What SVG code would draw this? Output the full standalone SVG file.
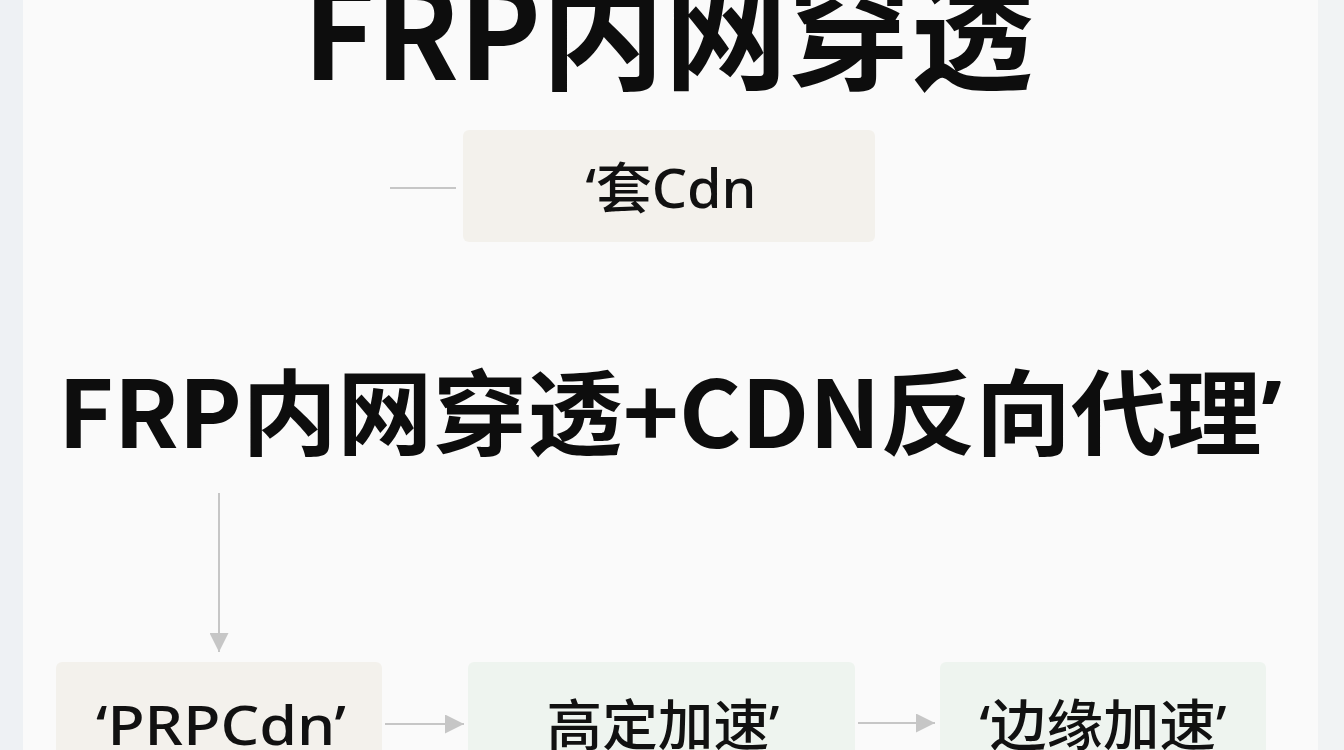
<svg xmlns="http://www.w3.org/2000/svg" width="1344" height="750" viewBox="0 0 1344 750">
<style>
.title{font-family:"Noto Sans CJK SC","Noto Sans",sans-serif;font-weight:bold;fill:#0d0d0d}
.q{font-family:"Noto Sans",sans-serif}
.lbl{font-family:"Noto Sans","Noto Sans CJK SC",sans-serif;font-size:55px;font-weight:500;fill:#111;text-anchor:middle}
.beige{fill:#f3f1ec}
.green{fill:#eef4ef}
.conn{stroke:#c6c6c6;stroke-width:2;fill:none}
</style>
<defs>
<marker id="arrBig" viewBox="0 0 10 10" refX="10" refY="5" markerWidth="19" markerHeight="19" markerUnits="userSpaceOnUse" orient="auto">
<path d="M0,0 L10,5 L0,10 z" fill="#c6c6c6"/>
</marker>
</defs>
<rect x="0" y="0" width="1344" height="750" fill="#fafafa"/>
<rect x="0" y="0" width="23" height="750" fill="#eef1f4"/>
<rect x="1318" y="0" width="26" height="750" fill="#f1f3f4"/>

<g id="title-top">
<text class="title" x="303" y="80" font-size="128" textLength="731" lengthAdjust="spacingAndGlyphs">FRP内网穿透</text>
</g>
<g id="title-main">
<text class="title" x="58" y="448" font-size="93" textLength="1224" lengthAdjust="spacingAndGlyphs">FRP内网穿透+CDN反向代理<tspan class="q">’</tspan></text>
</g>

<g id="connectors">
<line class="conn" x1="390" y1="188" x2="456" y2="188"/>
<line class="conn" x1="219" y1="493" x2="219" y2="652" marker-end="url(#arrBig)"/>
<line class="conn" x1="385" y1="724" x2="464" y2="724" marker-end="url(#arrBig)"/>
<line class="conn" x1="858" y1="723" x2="935" y2="723" marker-end="url(#arrBig)"/>
</g>

<g id="node-tao-cdn">
<rect class="beige" x="463" y="130" width="412" height="112" rx="6"/>
<text class="lbl" x="671" y="208" textLength="171" lengthAdjust="spacingAndGlyphs">‘套Cdn</text>
</g>
<g id="node-prpcdn">
<rect class="beige" x="56" y="662" width="326" height="100" rx="6"/>
<text class="lbl" x="221" y="745" textLength="250" lengthAdjust="spacingAndGlyphs">‘PRPCdn’</text>
</g>
<g id="node-gaoding">
<rect class="green" x="468" y="662" width="387" height="100" rx="6"/>
<text class="lbl" x="663" y="745" textLength="233" lengthAdjust="spacingAndGlyphs">高定加速’</text>
</g>
<g id="node-bianyuan">
<rect class="green" x="940" y="662" width="326" height="100" rx="6"/>
<text class="lbl" x="1103" y="745" textLength="247" lengthAdjust="spacingAndGlyphs">‘边缘加速’</text>
</g>
</svg>
